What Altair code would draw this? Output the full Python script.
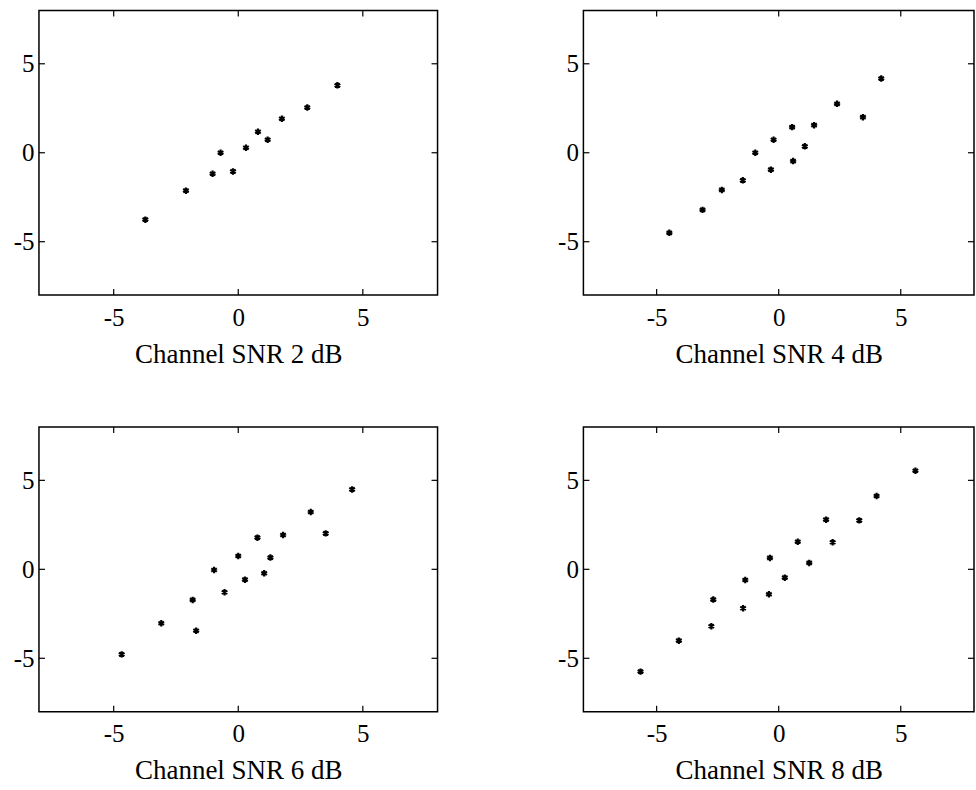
import altair as alt
import pandas as pd

# ---- data ----
titles = ["Channel SNR 2 dB", "Channel SNR 4 dB", "Channel SNR 6 dB", "Channel SNR 8 dB"]

x_snr2 = [-3.73, -2.10, -1.03, -0.71, -0.21, 0.31, 0.79, 1.18, 1.75, 2.77, 3.98]
y_snr2 = [-3.76, -2.13, -1.18, 0.00, -1.05, 0.28, 1.18, 0.73, 1.91, 2.54, 3.79]

x_snr4 = [-4.48, -3.12, -2.33, -1.47, -0.96, -0.32, -0.21, 0.55, 0.59, 1.07, 1.45, 2.39, 3.45, 4.20]
y_snr4 = [-4.50, -3.21, -2.09, -1.55, 0.00, -0.95, 0.73, 1.44, -0.47, 0.36, 1.55, 2.75, 2.00, 4.17]

x_snr6 = [-4.68, -3.09, -1.83, -1.69, -0.97, -0.55, 0.00, 0.27, 0.77, 1.04, 1.29, 1.80, 2.91, 3.51, 4.57]
y_snr6 = [-4.78, -3.03, -1.72, -3.45, -0.04, -1.29, 0.75, -0.58, 1.78, -0.22, 0.66, 1.93, 3.22, 2.02, 4.49]

x_snr8 = [-5.66, -4.09, -2.76, -2.68, -1.46, -1.37, -0.40, -0.36, 0.25, 0.78, 1.25, 1.94, 2.21, 3.30, 4.01, 5.60]
y_snr8 = [-5.75, -4.01, -3.20, -1.70, -2.19, -0.60, -1.40, 0.64, -0.47, 1.55, 0.36, 2.79, 1.52, 2.75, 4.12, 5.54]

tick_values = [-5, 0, 5]
axis_domain = [-8, 8]

# ---- styling ----
FONT = "Liberation Serif"
ASTERISK = "M0,-1L0,1M-0.87,-0.5L0.87,0.5M-0.87,0.5L0.87,-0.5"
TICK = 6


def panel(xs, ys, title, w, h):
    df = pd.DataFrame({"x": xs, "y": ys})
    ticks = pd.DataFrame({"t": tick_values})
    xscale = alt.Scale(domain=axis_domain, nice=False, zero=False)
    yscale = alt.Scale(domain=axis_domain, nice=False, zero=False)
    common = dict(
        values=tick_values, ticks=False, tickSize=0, domain=False, grid=False,
        labelFont=FONT, labelFontSize=25, labelColor="black",
        labelExpr="datum.value + ''",
    )
    xaxis = alt.Axis(
        title=title, titleFont=FONT, titleFontSize=27, titleFontWeight="normal",
        titleColor="black", titlePadding=11, labelPadding=10, **common)
    yaxis = alt.Axis(title=None, labelPadding=5, **common)

    pts = alt.Chart(df).mark_point(
        shape=ASTERISK, filled=False, stroke="black", strokeWidth=2.2, size=42, opacity=1
    ).encode(
        x=alt.X("x:Q", scale=xscale, axis=xaxis),
        y=alt.Y("y:Q", scale=yscale, axis=yaxis),
    )
    rule = dict(color="black", strokeWidth=1.2)
    tb = alt.Chart(ticks).mark_rule(**rule).encode(
        x=alt.X("t:Q", scale=xscale, axis=xaxis), y=alt.value(h), y2=alt.value(h - TICK))
    tt = alt.Chart(ticks).mark_rule(**rule).encode(
        x=alt.X("t:Q", scale=xscale, axis=xaxis), y=alt.value(0), y2=alt.value(TICK))
    tl = alt.Chart(ticks).mark_rule(**rule).encode(
        y=alt.Y("t:Q", scale=yscale, axis=yaxis), x=alt.value(0), x2=alt.value(TICK))
    tr = alt.Chart(ticks).mark_rule(**rule).encode(
        y=alt.Y("t:Q", scale=yscale, axis=yaxis), x=alt.value(w), x2=alt.value(w - TICK))
    return alt.layer(pts, tb, tt, tl, tr).properties(width=w, height=h)


W_LEFT, W_RIGHT, H = 399, 391, 285
charts = [
    panel(x_snr2, y_snr2, titles[0], W_LEFT, H),
    panel(x_snr4, y_snr4, titles[1], W_RIGHT, H),
    panel(x_snr6, y_snr6, titles[2], W_LEFT, H),
    panel(x_snr8, y_snr8, titles[3], W_RIGHT, H),
]

chart = alt.concat(
    *charts, columns=2, spacing={"row": 132, "column": 146}, bounds="flush"
).properties(
    padding={"left": 12, "top": 8, "right": 0, "bottom": 0},
    background="white",
).configure_view(
    stroke="black", strokeWidth=1.5
)

chart.save("out.html", embed_options={"renderer": "svg", "actions": False})
